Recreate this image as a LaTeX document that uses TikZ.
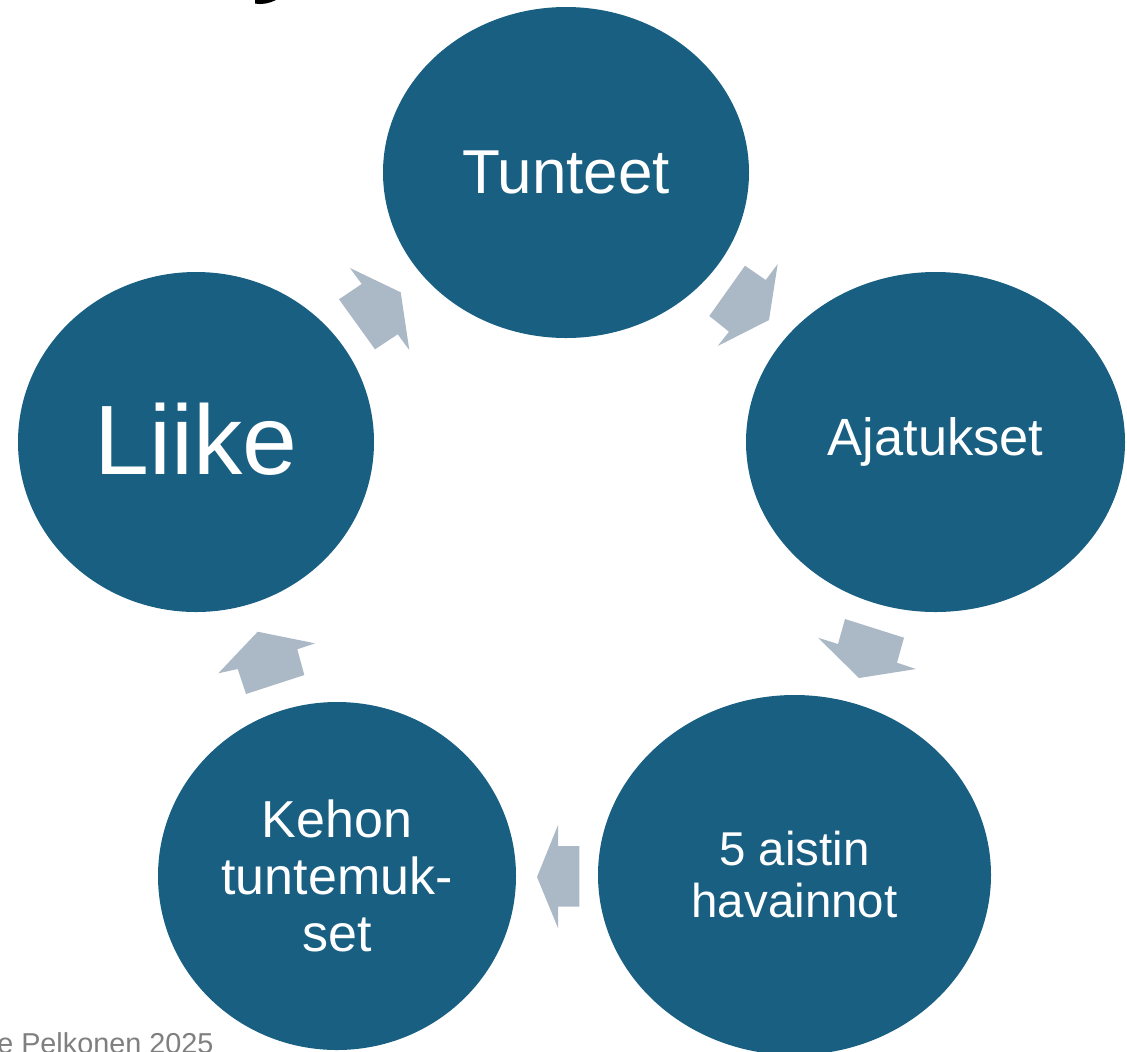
\documentclass[tikz,border=0pt]{standalone}
\usepackage{fontspec}
\setmainfont{Liberation Sans}
\usetikzlibrary{shapes.geometric}
\definecolor{circ}{HTML}{185F82}
\definecolor{arr}{HTML}{ABB8C5}
\definecolor{foot}{HTML}{7F7F7F}
\begin{document}
\begin{tikzpicture}[x=0.75pt,y=-0.75pt,
  bub/.style={ellipse, fill=circ, inner sep=0pt, text=white, align=center},
  blockarrow/.style={fill=arr, draw=none}]
\clip (0,0) rectangle (1127,1051);
% ellipses
\node[bub, minimum width=366*0.75pt, minimum height=331*0.75pt,
      font=\fontsize{46.5}{54}\selectfont] (tunteet) at (566,172.5) {\raisebox{1pt}{Tunteet}};
\node[bub, minimum width=379*0.75pt, minimum height=340*0.75pt,
      font=\fontsize{39.3}{46}\selectfont] (ajatukset) at (935.5,442) {\raisebox{-1.5pt}{Ajatukset}};
\node[bub, minimum width=393*0.75pt, minimum height=360*0.75pt,
      font=\fontsize{35.6}{39}\selectfont] (aistit) at (794.5,875) {5 aistin\\havainnot};
\node[bub, minimum width=358*0.75pt, minimum height=348*0.75pt,
      font=\fontsize{39}{43}\selectfont] (kehon) at (337,876) {Kehon\\tuntemuk-\\set};
\node[bub, minimum width=356*0.75pt, minimum height=340*0.75pt,
      font=\fontsize{74}{80}\selectfont] (liike) at (196,442) {\raisebox{5pt}{Liike}};
% block arrows
\fill[blockarrow] (350,268) -- (400.7,292.3) -- (409.3,350) -- (397.7,334.3)
  -- (375,349.3) -- (339,299.3) -- (361.7,284) -- cycle;
\fill[blockarrow] (745,265.7) -- (765.7,280) -- (777.7,264) -- (769,320)
  -- (717.7,346) -- (729,331.7) -- (709.3,316) -- cycle;
\fill[blockarrow] (845,619) -- (904,637.7) -- (897,662.7) -- (916,669)
  -- (859,678) -- (818,637.7) -- (838,644) -- cycle;
\fill[blockarrow] (579.3,846) -- (579.3,906.5) -- (558,906.5) -- (558,928)
  -- (537,877) -- (558,825) -- (558,846) -- cycle;
\fill[blockarrow] (218.3,673.3) -- (257.7,631.7) -- (315,643.3) -- (297.3,649.3)
  -- (304.3,675) -- (246,694) -- (237.7,669) -- cycle;
% cropped glyph fragment at top
\fill[black] (255,0) -- (255,3.5) .. controls (263,5) and (270,3) .. (276,0) -- cycle;
% footer
\node[anchor=base west, text=foot, inner sep=0pt,
      font=\fontsize{21.6}{25}\selectfont] (credit) at (-3,1053) {e Pelkonen 2025};
\end{tikzpicture}
\end{document}
